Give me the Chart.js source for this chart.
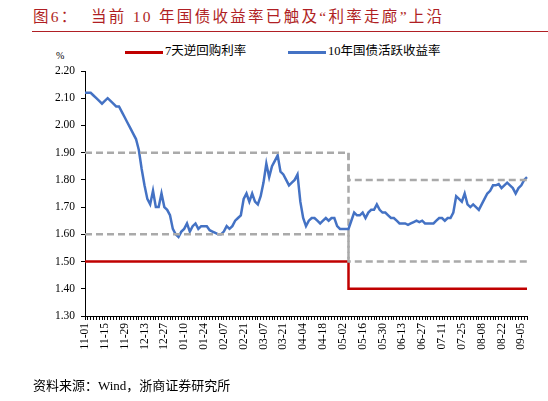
<!DOCTYPE html>
<html><head><meta charset="utf-8">
<script src="https://cdn.jsdelivr.net/npm/chart.js@4"></script>
<style>
body{margin:0;width:548px;height:401px;position:relative;background:#fff;font-family:"Liberation Serif","Noto Sans CJK SC",serif;overflow:hidden}
#t{position:absolute;left:33px;top:4px;font-size:15.5px;color:#B01F24;letter-spacing:2.3px;white-space:nowrap}
#rule{position:absolute;left:32px;right:0;top:31px;height:1px;background:#B01F24}
#src{position:absolute;left:33px;top:375px;font-size:13px;color:#000;white-space:nowrap}
#unit{position:absolute;left:56px;top:50px;font-size:10px}
.lg{position:absolute;top:40px;font-size:12.5px;white-space:nowrap}
.lg i{display:inline-block;width:38px;height:3px;vertical-align:middle;margin-right:2px}
canvas{position:absolute;left:0;top:0}
</style></head><body>
<div id="t">图6：&nbsp;&nbsp;当前 10 年国债收益率已触及“利率走廊”上沿</div>
<div id="rule"></div>
<div id="unit">%</div>
<div class="lg" style="left:125px"><i style="background:#C00000"></i>7天逆回购利率</div>
<div class="lg" style="left:288px"><i style="background:#4472C4"></i>10年国债活跃收益率</div>
<div style="position:absolute;left:0;top:0;width:548px;height:401px"><canvas id="c"></canvas></div>
<div id="src">资料来源：Wind，浙商证券研究所</div>
<script>
const startDate = "2022-11-01";
const stepDays = 2;
const tickEvery = 7;
const yTicks = [1.30,1.40,1.50,1.60,1.70,1.80,1.90,2.00,2.10,2.20];
const bond10y = [2.12,2.12,2.12,2.11,2.10,2.09,2.08,2.09,2.10,2.09,2.08,2.07,2.07,2.05,2.03,2.01,1.99,1.97,1.95,1.91,
1.84,1.78,1.73,1.71,1.76,1.70,1.70,1.75,1.70,1.69,1.67,1.62,1.60,1.59,1.61,1.62,1.64,1.61,1.63,1.64,
1.62,1.63,1.63,1.63,1.615,1.61,1.605,1.60,1.60,1.61,1.63,1.62,1.63,1.65,1.66,1.67,1.73,1.75,1.72,1.75,
1.72,1.71,1.74,1.79,1.86,1.81,1.85,1.87,1.89,1.83,1.82,1.80,1.78,1.79,1.80,1.82,1.72,1.66,1.63,1.65,
1.66,1.66,1.65,1.64,1.65,1.66,1.65,1.66,1.66,1.63,1.62,1.62,1.62,1.62,1.65,1.68,1.67,1.67,1.68,1.66,
1.68,1.69,1.69,1.71,1.69,1.68,1.68,1.67,1.66,1.66,1.65,1.64,1.64,1.64,1.635,1.64,1.645,1.65,1.645,1.65,
1.64,1.64,1.64,1.64,1.65,1.66,1.66,1.65,1.66,1.66,1.68,1.74,1.73,1.72,1.75,1.71,1.70,1.71,1.70,1.69,
1.71,1.73,1.75,1.76,1.78,1.78,1.785,1.77,1.78,1.79,1.78,1.77,1.75,1.77,1.78,1.80,1.81];
const cutIndex = 93;
const repo7dBefore = 1.50, repo7dAfter = 1.40;
const upperBefore = 1.90, upperAfter = 1.80;
const lowerBefore = 1.60, lowerAfter = 1.50;

const labels = bond10y.map((_, i) => {
  const d = new Date(startDate + "T00:00:00Z");
  d.setUTCDate(d.getUTCDate() + i * stepDays);
  return String(d.getUTCMonth()+1).padStart(2,"0") + "-" + String(d.getUTCDate()).padStart(2,"0");
});
const stepSeries = (a, b) => bond10y.map((_, i) => i < cutIndex ? a : b);
const repo7d = stepSeries(repo7dBefore, repo7dAfter);
const upper = stepSeries(upperBefore, upperAfter);
const lower = stepSeries(lowerBefore, lowerAfter);

const vline = {
  id: 'vline',
  beforeDatasetsDraw(ch) {
    const x = ch.scales.x.getPixelForValue(cutIndex), y = ch.scales.y, c = ch.ctx;
    c.save(); c.strokeStyle = '#AAAAAA'; c.lineWidth = 2.5; c.setLineDash([7,4]);
    c.beginPath(); c.moveTo(x, y.getPixelForValue(upperBefore)); c.lineTo(x, y.getPixelForValue(lowerAfter)); c.stroke();
    c.restore();
  }
};
const font = {family: '"Liberation Serif", serif', size: 11.5};
const gray = {borderColor:'#AAAAAA', borderWidth:2.5, borderDash:[7,4], pointRadius:0, stepped:'before', fill:false};
new Chart(document.getElementById('c'), {
  type: 'line',
  data: { labels, datasets: [
    {label:'upper', data: upper, ...gray},
    {label:'lower', data: lower, ...gray},
    {label:'7天逆回购利率', data: repo7d, borderColor:'#C00000', borderWidth:2.5, pointRadius:0, stepped:'before'},
    {label:'10年国债活跃收益率', data: bond10y, borderColor:'#4472C4', borderWidth:2.5, pointRadius:0, tension:0}
  ]},
  options: {
    responsive:true, maintainAspectRatio:false, animation:false,
    layout:{padding:{top:71, right:21, bottom:31, left:0}},
    plugins:{legend:{display:false}, tooltip:{enabled:false}},
    scales:{
      y:{min:1.30,max:2.20, afterBuildTicks:s=>{s.ticks = yTicks.map(v=>({value:v}));},
        afterFit:s=>{s.width=85;},
        ticks:{font, color:'#000', callback:v=>v.toFixed(2), padding:6},
        grid:{drawOnChartArea:false, color:'#000', tickLength:4}, border:{color:'#000', width:1}},
      x:{afterFit:s=>{s.height=54;},
        ticks:{font, color:'#000', autoSkip:false, minRotation:90, maxRotation:90,
          callback:(v,i)=> i % tickEvery === 0 ? labels[i] : ''},
        grid:{drawOnChartArea:false, color:'#000', tickLength:4, display:true}, border:{color:'#000', width:1}}
    }
  },
  plugins:[vline]
});
</script></body></html>
